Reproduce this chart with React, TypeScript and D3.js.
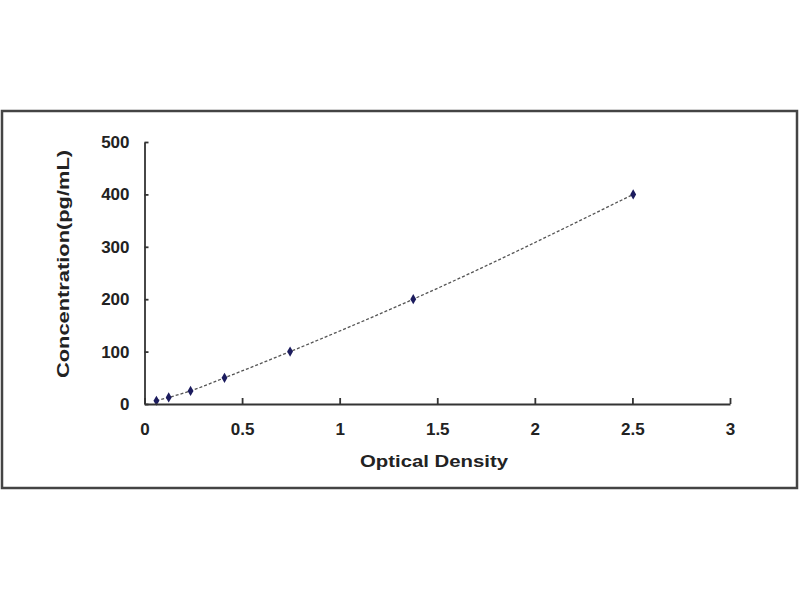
import * as d3 from "d3";
import { useRef, useEffect } from "react";

// standard curve points
const opticalDensity = [0.061, 0.124, 0.236, 0.41, 0.746, 1.377, 2.504];
const concentration = [6.25, 12.5, 25, 50, 100, 200, 400];
const xTicks = [0, 0.5, 1, 1.5, 2, 2.5, 3];
const yTicks = [0, 100, 200, 300, 400, 500];

export default function App() {
  const width = 800;
  const height = 600;
  const margin = { top: 142, right: 70, bottom: 196, left: 144.5 };
  const font = "'Liberation Sans', Arial, sans-serif";

  const xScale = d3
    .scaleLinear()
    .domain([0, 3])
    .range([margin.left, width - margin.right]);

  const yScale = d3
    .scaleLinear()
    .domain([0, 500])
    .range([height - margin.bottom, margin.top]);

  const xAxisRef = useRef<SVGGElement>(null);
  const yAxisRef = useRef<SVGGElement>(null);

  useEffect(() => {
    if (xAxisRef.current) {
      const g = d3.select(xAxisRef.current);
      g.selectAll("*").remove();
      g.call(
        d3
          .axisBottom(xScale)
          .tickValues(xTicks)
          .tickSizeInner(-6)
          .tickSizeOuter(0)
          .tickPadding(19)
          .tickFormat((d) => String(d))
      );
      g.select(".domain").attr("stroke", "#333").attr("stroke-width", 1.8);
      g.selectAll(".tick line").attr("stroke", "#333").attr("stroke-width", 1.8);
      g.selectAll(".tick text")
        .attr("fill", "#222")
        .attr("font-family", font)
        .attr("font-weight", "bold")
        .attr("font-size", 17);
    }
    if (yAxisRef.current) {
      const g = d3.select(yAxisRef.current);
      g.selectAll("*").remove();
      g.call(
        d3
          .axisLeft(yScale)
          .tickValues(yTicks)
          .tickSizeInner(-4)
          .tickSizeOuter(0)
          .tickPadding(15)
          .tickFormat((d) => String(d))
      );
      g.select(".domain").attr("stroke", "#333").attr("stroke-width", 1.8);
      g.selectAll(".tick line").attr("stroke", "#333").attr("stroke-width", 1.8);
      g.selectAll(".tick text")
        .attr("fill", "#222")
        .attr("font-family", font)
        .attr("font-weight", "bold")
        .attr("font-size", 17);
    }
  }, [xScale, yScale]);

  const points = opticalDensity.map((x, i) => [x, concentration[i]] as [number, number]);

  const line = d3
    .line<[number, number]>()
    .x((d) => xScale(d[0]))
    .y((d) => yScale(d[1]))
    .curve(d3.curveMonotoneX);

  const diamond = d3.symbol().type(d3.symbolDiamond).size(30)() || "";

  return (
    <svg
      width={width}
      height={height}
      style={{ position: "absolute", left: 0, top: 0, background: "#fff" }}
    >
      {/* outer frame */}
      <rect
        x={2}
        y={111}
        width={795}
        height={377}
        fill="none"
        stroke="#444"
        strokeWidth={2.5}
      />

      {/* fitted curve */}
      <path
        d={line(points) || ""}
        fill="none"
        stroke="#555"
        strokeWidth={1.3}
        strokeDasharray="3,2"
      />

      {points.map((d, i) => (
        <path
          key={i}
          d={diamond}
          transform={`translate(${xScale(d[0])}, ${yScale(d[1])})`}
          fill="#1c1c5e"
        />
      ))}

      {/* X-axis */}
      <g ref={xAxisRef} transform={`translate(0, ${height - margin.bottom})`} />

      {/* Y-axis */}
      <g ref={yAxisRef} transform={`translate(${margin.left}, 0)`} />

      <text
        x={434}
        y={467}
        textAnchor="middle"
        fontFamily={font}
        fontWeight="bold"
        fontSize={17}
        textLength={148}
        lengthAdjust="spacingAndGlyphs"
        fill="#222"
      >
        Optical Density
      </text>
      <text
        transform={`translate(69, 264) rotate(-90)`}
        textAnchor="middle"
        fontFamily={font}
        fontWeight="bold"
        fontSize={17}
        textLength={228}
        lengthAdjust="spacingAndGlyphs"
        fill="#222"
      >
        Concentration(pg/mL)
      </text>
    </svg>
  );
}
